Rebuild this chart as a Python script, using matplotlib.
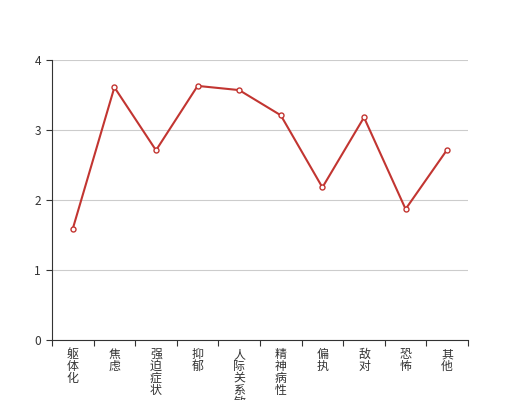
import matplotlib
matplotlib.use("Agg")
import matplotlib.pyplot as plt
from matplotlib.ticker import FixedLocator

plt.rcParams['font.family'] = ['Noto Sans CJK SC', 'DejaVu Sans']

categories = ["躯体化", "焦虑", "强迫症状", "抑郁", "人际关系敏感", "精神病性", "偏执", "敌对", "恐怖", "其他"]
values = [1.59, 3.61, 2.71, 3.63, 3.57, 3.21, 2.18, 3.18, 1.87, 2.72]
yticks = [0, 1, 2, 3, 4]

fig = plt.figure(figsize=(5.2, 4.0), dpi=100)
ax = fig.add_axes([0.1, 0.15, 0.8, 0.7])

n = len(categories)
x = list(range(n))
ax.plot(x, values, color="#c23531", lw=1.5, marker="o", ms=3.6,
        mfc="white", mec="#c23531", mew=1.0, zorder=3, clip_on=False)

ax.set_xlim(-0.5, n - 0.5)
ax.set_ylim(0, 4)
ax.set_yticks(yticks)
ax.set_yticklabels([str(v) for v in yticks])
ax.yaxis.grid(True, color="#cccccc", lw=0.8)
ax.set_axisbelow(True)

ax.set_xticks(x)
ax.set_xticklabels(["\n".join(c) for c in categories], va="top", linespacing=0.88)
ax.xaxis.set_minor_locator(FixedLocator([i - 0.5 for i in range(n + 1)]))
ax.tick_params(axis="x", which="major", length=0, pad=6, labelsize=8.6, colors="#333333")
ax.tick_params(axis="x", which="minor", length=4, width=0.8, color="#333333")
ax.tick_params(axis="y", length=4, width=0.8, color="#333333", labelsize=8.6,
               labelcolor="#333333", pad=4)

for s in ["top", "right"]:
    ax.spines[s].set_visible(False)
for s in ["left", "bottom"]:
    ax.spines[s].set_color("#333333")
    ax.spines[s].set_linewidth(0.8)

fig.savefig("out.png", dpi=100)
